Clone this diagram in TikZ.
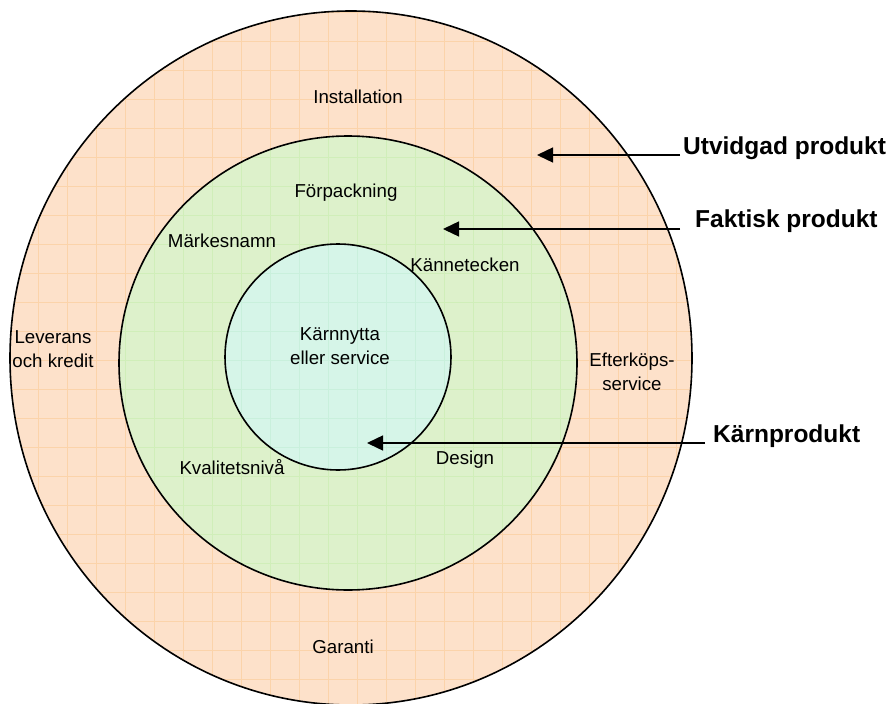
\documentclass[tikz,border=0pt]{standalone}
\usepackage{fontspec}
\setmainfont{Liberation Sans}
\usetikzlibrary{arrows.meta}
\definecolor{outerbg}{HTML}{FDE1CA}
\definecolor{outergrid}{HTML}{FBD3AA}
\definecolor{midbg}{HTML}{DDF1CB}
\definecolor{midgrid}{HTML}{D0EEB9}
\definecolor{innerbg}{HTML}{D6F5E8}
\definecolor{innergrid}{HTML}{C9F0DC}
\tikzset{
  ring/.style={draw=black, line width=1.6pt},
  lbl/.style={font=\fontsize{18.7pt}{24pt}\selectfont, align=center, inner sep=0pt},
  biglbl/.style={font=\fontsize{24.5pt}{28pt}\selectfont\bfseries, anchor=west, inner sep=0pt},
  pointer/.style={line width=1.4pt, -{Triangle[length=16pt,width=15pt]}}
}
\newcommand{\gridfill}[3]{%
  \begin{scope}
    \clip #1;
    \fill[#2] (0,0) rectangle (895,704);
    \foreach \gx in {9,38,...,890} \draw[#3, line width=0.7pt] (\gx,0) -- (\gx,704);
    \foreach \gy in {12,41,...,704} \draw[#3, line width=0.7pt] (0,\gy) -- (895,\gy);
  \end{scope}}
\begin{document}
\begin{tikzpicture}[x=1pt,y=-1pt]
\useasboundingbox (0,0) rectangle (895,704);
% outer ring
\gridfill{(351,358) ellipse [x radius=341, y radius=347]}{outerbg}{outergrid}
\draw[ring] (351,358) ellipse [x radius=341, y radius=347];
% middle ring
\gridfill{(348,363) ellipse [x radius=229, y radius=227]}{midbg}{midgrid}
\draw[ring] (348,363) ellipse [x radius=229, y radius=227];
% inner ring
\gridfill{(338,357) circle [radius=113]}{innerbg}{innergrid}
\draw[ring] (338,357) circle [radius=113];

% texts
\node[lbl] (inst) at (358,97) {Installation};
\node[lbl] (forp) at (346,193) {Förpackning};
\node[lbl] (mark) at (222,241) {Märkesnamn};
\node[lbl] (kann) at (465,265) {Kännetecken};
\node[lbl] (karn) at (340,346) {Kärnnytta\\eller service};
\node[lbl] (lev) at (53,349) {Leverans\\och kredit};
\node[lbl] (eft) at (632,372) {Efterköps-\\service};
\node[lbl] (kval) at (232,467) {Kvalitetsnivå};
\node[lbl] (des) at (465,460) {Design};
\node[lbl] (gar) at (343,647) {Garanti};

% side labels
\node[biglbl] (utv) at (683,148) {Utvidgad produkt};
\node[biglbl] (fak) at (695,221) {Faktisk produkt};
\node[biglbl] (kp) at (713,436) {Kärnprodukt};

\coordinate (utvs) at (680,155);
\coordinate (utvt) at (537,155);
\coordinate (faks) at (680,229);
\coordinate (fakt) at (443,229);
\coordinate (kps) at (705,443);
\coordinate (kpt) at (367,443);
\draw[pointer] (utvs) -- (utvt);
\draw[pointer] (faks) -- (fakt);
\draw[pointer] (kps) -- (kpt);
\end{tikzpicture}
\end{document}
